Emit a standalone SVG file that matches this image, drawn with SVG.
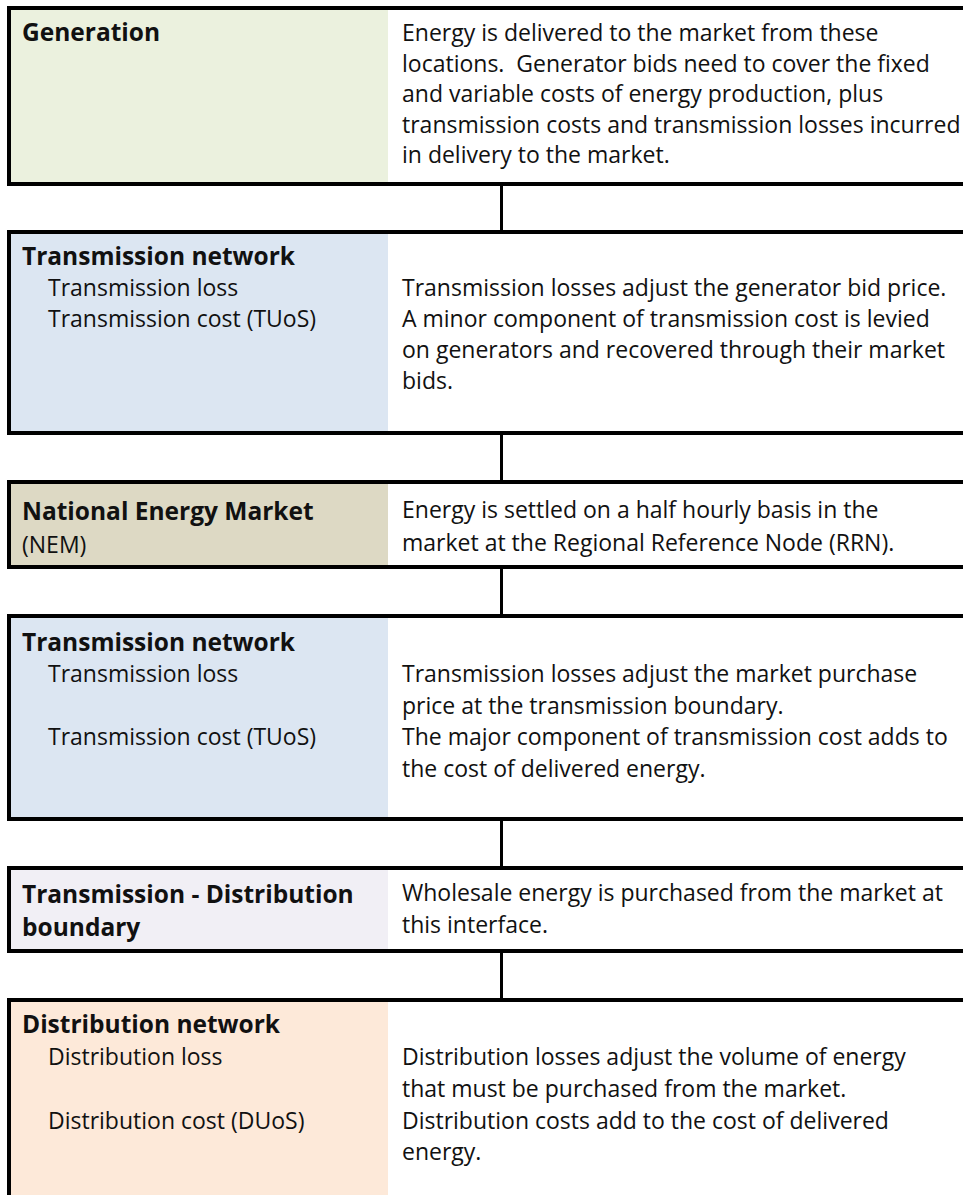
<svg xmlns="http://www.w3.org/2000/svg" width="963" height="1195" viewBox="0 0 963 1195">
<style>
.t{font-family:"Open Sans","Liberation Sans",sans-serif;font-size:23px;fill:#111}
.b{font-weight:bold;font-size:24.5px}
.ln{stroke:#000;stroke-width:4;fill:none}
.cn{stroke:#000;stroke-width:3;fill:none}
</style>
<rect x="0" y="0" width="963" height="1195" fill="#fff"/>
<g id="generation">
<rect x="11" y="10" width="377" height="172" fill="#EBF1DE"/>
<path class="ln" d="M7 8H963M9 6V186M7 184H963"/>
<text class="t b" x="22" y="41">Generation</text>
<text class="t" x="402" y="41">Energy is delivered to the market from these</text>
<text class="t" x="402" y="71.5" xml:space="preserve" style="white-space:pre">locations.  Generator bids need to cover the fixed</text>
<text class="t" x="402" y="102">and variable costs of energy production, plus</text>
<text class="t" x="402" y="132.5">transmission costs and transmission losses incurred</text>
<text class="t" x="402" y="163">in delivery to the market.</text>
</g>
<g id="transmission-network-1">
<rect x="11" y="234" width="377" height="197" fill="#DCE6F2"/>
<path class="ln" d="M7 232H963M9 230V435M7 433H963"/>
<text class="t b" x="22" y="265">Transmission network</text>
<text class="t" x="48" y="296">Transmission loss</text>
<text class="t" x="48" y="327">Transmission cost (TUoS)</text>
<text class="t" x="402" y="296">Transmission losses adjust the generator bid price.</text>
<text class="t" x="402" y="327">A minor component of transmission cost is levied</text>
<text class="t" x="402" y="358">on generators and recovered through their market</text>
<text class="t" x="402" y="389">bids.</text>
</g>
<g id="nem">
<rect x="11" y="484" width="377" height="81" fill="#DDD9C4"/>
<path class="ln" d="M7 482H963M9 480V569M7 567H963"/>
<text class="t b" x="22" y="520">National Energy Market</text>
<text class="t" x="22" y="553">(NEM)</text>
<text class="t" x="402" y="518">Energy is settled on a half hourly basis in the</text>
<text class="t" x="402" y="551">market at the Regional Reference Node (RRN).</text>
</g>
<g id="transmission-network-2">
<rect x="11" y="618" width="377" height="199" fill="#DCE6F2"/>
<path class="ln" d="M7 616H963M9 614V821M7 819H963"/>
<text class="t b" x="22" y="651">Transmission network</text>
<text class="t" x="48" y="682">Transmission loss</text>
<text class="t" x="48" y="745">Transmission cost (TUoS)</text>
<text class="t" x="402" y="682">Transmission losses adjust the market purchase</text>
<text class="t" x="402" y="714">price at the transmission boundary.</text>
<text class="t" x="402" y="745">The major component of transmission cost adds to</text>
<text class="t" x="402" y="777">the cost of delivered energy.</text>
</g>
<g id="boundary">
<rect x="11" y="870" width="377" height="79" fill="#F1EFF5"/>
<path class="ln" d="M7 868H963M9 866V953M7 951H963"/>
<text class="t b" x="22" y="903">Transmission - Distribution</text>
<text class="t b" x="22" y="936">boundary</text>
<text class="t" x="402" y="901">Wholesale energy is purchased from the market at</text>
<text class="t" x="402" y="933">this interface.</text>
</g>
<g id="distribution-network">
<rect x="11" y="1002" width="377" height="193" fill="#FDE9D9"/>
<path class="ln" d="M7 1000H963M9 998V1195"/>
<text class="t b" x="22" y="1033">Distribution network</text>
<text class="t" x="48" y="1065">Distribution loss</text>
<text class="t" x="48" y="1129">Distribution cost (DUoS)</text>
<text class="t" x="402" y="1065">Distribution losses adjust the volume of energy</text>
<text class="t" x="402" y="1097">that must be purchased from the market.</text>
<text class="t" x="402" y="1129">Distribution costs add to the cost of delivered</text>
<text class="t" x="402" y="1160">energy.</text>
</g>
<g id="connectors">
<path class="cn" d="M501.5 186V230M501.5 435V480M501.5 569V614M501.5 821V866M501.5 953V998"/>
</g>
</svg>
